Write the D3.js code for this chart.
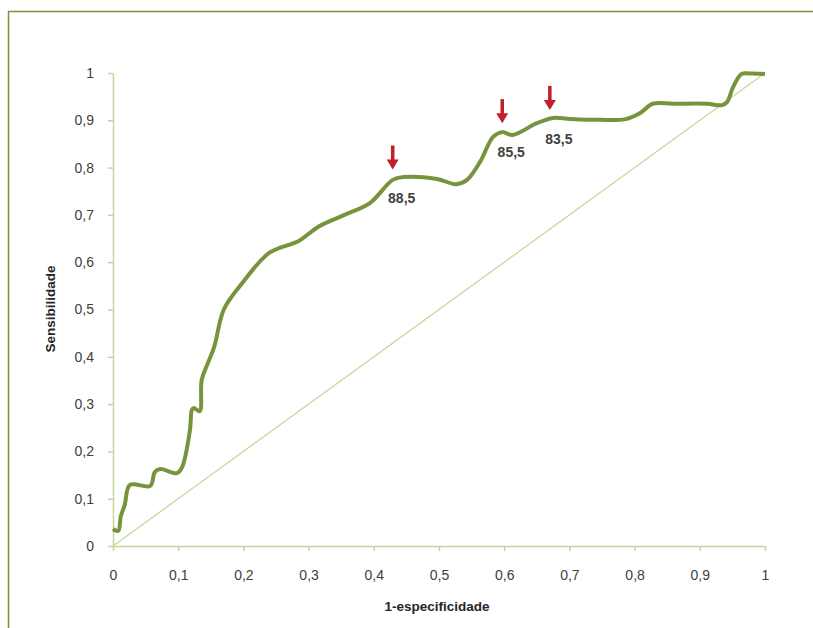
<!DOCTYPE html>
<html lang="pt">
<head>
  <meta charset="UTF-8" />
  <title>Curva ROC</title>
  <style>
    body { margin: 0; background: #fff; font-family: "Liberation Sans", Arial, sans-serif; }
    svg { display: block; }
  </style>
</head>
<body>
  <svg id="roc"></svg>

  <script src="https://d3js.org/d3.v7.min.js"></script>
  <script>
    // ROC curve points (1-especificidade, sensibilidade)
    const fpr = [0, 0.008, 0.012, 0.018, 0.026, 0.057, 0.064, 0.072, 0.098, 0.106, 0.118, 0.121, 0.124, 0.133, 0.136,
      0.145, 0.155, 0.17, 0.195, 0.24, 0.285, 0.315, 0.355, 0.394, 0.429, 0.445, 0.497, 0.526, 0.543, 0.563,
      0.583, 0.597, 0.613, 0.65, 0.675, 0.701, 0.747, 0.785, 0.808, 0.828, 0.859, 0.911, 0.934, 0.942, 0.951, 0.964, 0.978, 1];
    const tpr = [0.036, 0.032, 0.063, 0.087, 0.129, 0.127, 0.156, 0.163, 0.154, 0.167, 0.245, 0.288, 0.292, 0.285, 0.351,
      0.385, 0.42, 0.5, 0.55, 0.62, 0.645, 0.675, 0.70, 0.725, 0.774, 0.78, 0.776, 0.765, 0.774, 0.812,
      0.865, 0.875, 0.869, 0.894, 0.905, 0.903, 0.901, 0.902, 0.915, 0.935, 0.935, 0.935, 0.932, 0.939, 0.97, 0.998, 0.999, 0.998];

    // cut-off points marked with arrows
    const cutX = [0.429, 0.597, 0.670];
    const cutY = [0.777, 0.875, 0.903];
    const cutLabels = ["88,5", "85,5", "83,5"];

    const xTicks = [0, 0.1, 0.2, 0.3, 0.4, 0.5, 0.6, 0.7, 0.8, 0.9, 1];
    const yTicks = [0, 0.1, 0.2, 0.3, 0.4, 0.5, 0.6, 0.7, 0.8, 0.9, 1];

    const W = 813, H = 628;
    const fmt = d => d3.format("")(d).replace(".", ",");

    const svg = d3.select("#roc").attr("width", W).attr("height", H);

    // outer frame
    svg.append("rect")
      .attr("x", 8.5).attr("y", 11.5)
      .attr("width", 900).attr("height", 700)
      .attr("fill", "none")
      .attr("stroke", "#77933c")
      .attr("stroke-width", 1.5);

    const x = d3.scaleLinear().domain([0, 1]).range([113, 765]);
    const y = d3.scaleLinear().domain([0, 1]).range([546, 73]);

    const axisColor = "#c3d69b";

    const gx = svg.append("g")
      .attr("transform", `translate(0,${y(0)})`)
      .call(d3.axisBottom(x).tickValues(xTicks).tickFormat(fmt).tickSize(5).tickSizeOuter(0).tickPadding(19));
    const gy = svg.append("g")
      .attr("transform", `translate(${x(0)},0)`)
      .call(d3.axisLeft(y).tickValues(yTicks).tickFormat(fmt).tickSize(5).tickSizeOuter(0).tickPadding(14));

    [gx, gy].forEach(g => {
      g.select(".domain").attr("stroke", axisColor).attr("stroke-width", 1.5);
      g.selectAll(".tick line").attr("stroke", axisColor).attr("stroke-width", 1.5);
      g.selectAll(".tick text")
        .attr("fill", "#404040")
        .style("font-family", "'Liberation Sans', Arial, sans-serif")
        .style("font-size", "14px");
    });

    // reference diagonal
    svg.append("line")
      .attr("x1", x(0)).attr("y1", y(0))
      .attr("x2", x(1)).attr("y2", y(1))
      .attr("stroke", axisColor)
      .attr("stroke-width", 1.2);

    const pts = fpr.map((d, i) => [d, tpr[i]]);
    svg.append("path")
      .datum(pts)
      .attr("fill", "none")
      .attr("stroke", "#77933c")
      .attr("stroke-width", 4)
      .attr("stroke-linejoin", "round")
      .attr("d", d3.line().x(d => x(d[0])).y(d => y(d[1])).curve(d3.curveCatmullRom.alpha(0.5)));

    // arrows + labels
    const red = "#c0202a";
    cutX.forEach((cx, i) => {
      const px = x(cx), tip = y(cutY[i]) - 9;
      svg.append("line")
        .attr("x1", px).attr("x2", px)
        .attr("y1", tip - 24).attr("y2", tip - 8)
        .attr("stroke", red).attr("stroke-width", 3.5);
      svg.append("path")
        .attr("d", `M${px - 6},${tip - 10}L${px + 6},${tip - 10}L${px},${tip}Z`)
        .attr("fill", red);
      svg.append("text")
        .attr("x", px + 9).attr("y", y(cutY[i]) + 25)
        .attr("text-anchor", "middle")
        .attr("fill", "#404040")
        .style("font-size", "14px")
        .style("font-weight", "bold")
        .text(cutLabels[i]);
    });

    svg.append("text")
      .attr("x", 437).attr("y", 611)
      .attr("text-anchor", "middle")
      .attr("fill", "#262626")
      .style("font-size", "13.5px")
      .style("font-weight", "bold")
      .text("1-especificidade");

    svg.append("text")
      .attr("transform", "translate(55,309) rotate(-90)")
      .attr("text-anchor", "middle")
      .attr("fill", "#262626")
      .style("font-size", "13.5px")
      .style("font-weight", "bold")
      .text("Sensibilidade");
  </script>
</body>
</html>
